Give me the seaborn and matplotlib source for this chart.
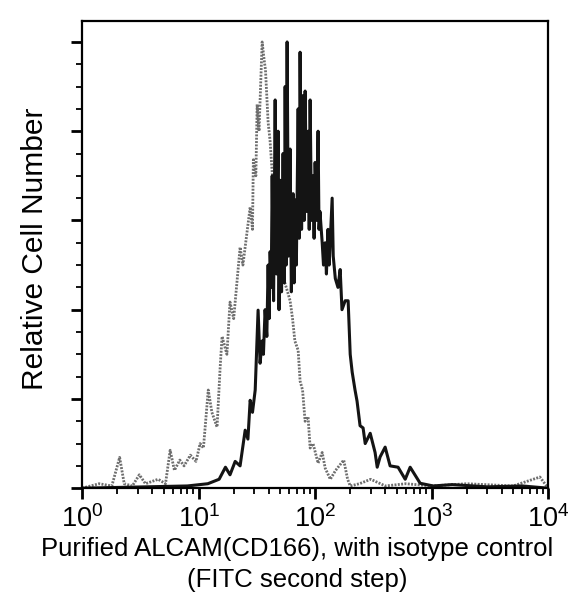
import numpy as np
import pandas as pd
import matplotlib
matplotlib.use("Agg")
import matplotlib.pyplot as plt
import matplotlib.ticker as mticker
import seaborn as sns

# ALCAM (CD166) stained cells - dark trace
alcam_fluor = [1.0, 8, 12, 15, 17, 18.6, 20.6, 22.7, 25.1, 26.5, 27.7, 29, 30.6, 32.4, 33.7,
               35.1, 36, 37.2, 38.5, 39.5, 40.3, 41.1, 42, 42.8, 44, 45.4, 46.5, 48.1, 49,
               50.1, 51.5, 53.1, 54.5, 55.3, 56.4, 57.5, 59, 61, 62.5, 64.7, 66, 67.3, 69,
               71.5, 73, 74.3, 76.5, 78.9, 80.5, 82.1, 84.5, 87.1, 89, 90.6, 93, 96.1, 98,
               100, 103, 106, 108, 110, 115, 118, 122, 125, 129, 132, 140, 143, 149, 157,
               164, 170, 181, 192, 200, 208, 220, 229, 243, 258, 269, 297, 327, 341, 361,
               399, 440, 515, 593, 654, 797, 1030, 1500, 3000, 6000, 10000]
alcam_count = [0, 0.5, 1, 2, 4.7, 3, 6, 5, 13, 11, 19.7, 17, 22, 39.9, 28,
               33, 30, 40, 34, 50, 38, 53, 45, 70, 42, 87, 48, 80, 40,
               69, 44, 75, 46, 90, 50, 100, 52, 76, 44, 66, 46, 64.6, 50,
               85, 56, 97.7, 58, 88, 60, 89, 62, 80, 58, 87, 60, 70, 56,
               73, 60, 80, 58, 62, 55, 50, 55, 48, 58, 50, 65, 52, 47, 45,
               49, 40, 42, 42, 30, 26, 22, 19.5, 14, 13.5, 10, 12.3, 8, 4.7, 7,
               9.2, 5, 4.7, 2, 4.7, 1.1, 0.5, 0.8, 0.3, 0.5, 0]

# isotype control - grey trace
iso_fluor = [1.0, 1.4, 1.8, 2.1, 2.3, 2.7, 3.1, 3.5, 4.5, 5.2, 5.7, 6.2, 6.9, 7.5, 8.5,
             9.5, 10.3, 11, 12.1, 13, 14.4, 15.3, 15.9, 17.5, 18.6, 20, 22.7, 24, 27.7,
             29, 29.5, 31, 31.8, 33, 35.1, 36.5, 37.5, 39.5, 41, 43, 45, 48, 50, 53, 55,
             58, 61, 64, 67, 71.5, 74.3, 78, 82, 87, 90.6, 96, 106, 115, 122, 135, 150,
             176, 190, 200, 240, 300, 400, 600, 1000, 2000, 5000, 8500, 10000]
iso_count = [0, 1, 0.5, 6.9, 1, 0.5, 3, 1, 2, 1, 8.5, 4, 6.3, 5, 7.4,
             6, 10, 9, 22, 17, 13.7, 27, 34, 30, 41.7, 38, 54, 50, 63,
             58, 73.6, 70, 86, 80, 100, 96, 93.7, 82, 78, 70, 64, 58, 52, 50, 46,
             44, 42, 38, 33, 30.9, 24, 22, 15, 16, 9, 10, 5.6, 8, 4.5, 2, 4,
             6.3, 2, 0.5, 1, 2, 0.5, 1, 0.5, 1, 0.5, 2.5, 0]

alcam = pd.DataFrame({"fluor": alcam_fluor, "count": alcam_count})
iso = pd.DataFrame({"fluor": iso_fluor, "count": iso_count})

sns.set_style("ticks")
plt.rcParams["font.family"] = ["Liberation Sans", "DejaVu Sans"]
plt.rcParams["mathtext.fontset"] = "custom"
plt.rcParams["mathtext.rm"] = "Liberation Sans"
plt.rcParams["mathtext.default"] = "regular"
plt.rcParams["text.color"] = "black"
plt.rcParams["axes.labelcolor"] = "black"

fig, ax = plt.subplots(figsize=(5.74, 5.99), dpi=100)
fig.subplots_adjust(left=0.143, right=0.955, top=0.965, bottom=0.185)

sns.lineplot(data=iso, x="fluor", y="count", ax=ax, color="#6e6e6e", lw=2.0,
             linestyle=(0, (0.7, 0.5)), sort=False, estimator=None)
sns.lineplot(data=alcam, x="fluor", y="count", ax=ax, color="#141414", lw=2.2,
             sort=False, estimator=None)

ax.set_xscale("log")
ax.set_xlim(1, 10000)
ax.set_ylim(0, 104.7)
ax.xaxis.set_major_locator(mticker.LogLocator(base=10, numticks=10))
ax.xaxis.set_minor_locator(mticker.LogLocator(base=10, subs=np.arange(2, 10), numticks=50))
ax.xaxis.set_major_formatter(mticker.LogFormatterMathtext())
ax.xaxis.set_minor_formatter(mticker.NullFormatter())
ax.yaxis.set_major_locator(mticker.MultipleLocator(20))
ax.yaxis.set_minor_locator(mticker.MultipleLocator(5))
ax.set_yticklabels([])

for s in ax.spines.values():
    s.set_linewidth(1.6)
    s.set_color("black")
ax.tick_params(axis="both", which="major", direction="out", length=8, width=2.0, colors="black")
ax.tick_params(axis="both", which="minor", direction="out", length=4, width=1.3, colors="black")
ax.tick_params(axis="x", which="major", labelsize=19.5, pad=4)

ax.set_xlabel("Purified ALCAM(CD166), with isotype control\n(FITC second step)",
              fontsize=18.5, linespacing=1.4, labelpad=3, x=0.461)
ax.set_ylabel("Relative Cell Number", fontsize=21.5, labelpad=12, y=0.512)

fig.savefig("out.png", dpi=100, facecolor="white")
